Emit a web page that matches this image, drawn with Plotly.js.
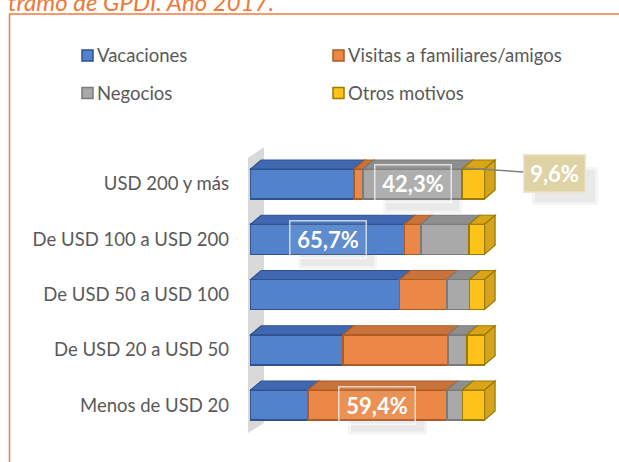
<!DOCTYPE html>
<html>
<head>
<meta charset="utf-8">
<script src="https://cdn.plot.ly/plotly-3.0.1.min.js"></script>
<style>html,body{margin:0;padding:0;background:#fff;}#chart{width:619px;height:462px;}</style>
</head>
<body>
<div id="chart"></div>
<script>
// ---- data ----
const categories = ['USD 200 y más', 'De USD 100 a USD 200', 'De USD 50 a USD 100', 'De USD 20 a USD 50', 'Menos de USD 20'];
const seriesNames = ['Vacaciones', 'Visitas a familiares/amigos', 'Negocios', 'Otros motivos'];
const vacaciones = [44.2, 65.7, 63.7, 39.4, 24.5];
const visitas = [3.9, 7.1, 20.2, 44.9, 59.4];
const negocios = [42.3, 20.6, 9.7, 8.1, 6.6];
const otros = [9.6, 6.6, 6.4, 7.6, 9.5];
const titleText = 'tramo de GPDI. Año 2017.';
// labelled values: [series index, category index]
const insideLabels = [[2, 0], [0, 1], [1, 4]];
const calloutLabel = [3, 0];

// ---- styling ----
const values = [vacaciones, visitas, negocios, otros];
const fills = ['#5282CB', '#EB8848', '#A9A9A9', '#FDC31A'];
const tops = ['#3F68B0', '#C8733C', '#8E8E8E', '#D9A516'];
const edges = ['#2F528F', '#AE5A21', '#7B7B7B', '#9C7A00'];
const sideYellow = '#D4A51C';

const W = 619, H = 462;
const M = {l: 246, r: 111, t: 140, b: 22};
const PW = W - M.l - M.r, PH = H - M.t - M.b;
const xr = [-2, 110];
const yr = [4.633, -0.796];
const pxPerX = PW / (xr[1] - xr[0]);
const pxPerY = PH / (yr[0] - yr[1]);
const x2px = x => M.l + (x - xr[0]) * pxPerX;
const px2x = p => xr[0] + (p - M.l) / pxPerX;
const py2y = p => yr[1] + (p - M.t) / pxPerY;
const y2py = y => M.t + (y - yr[1]) * pxPerY;
const xp = p => (p - M.l) / PW;
const yp = p => 1 - (p - M.t) / PH;

const barW = 0.543;
const dX = 10.5 / pxPerX;
const dY = 9 / pxPerY;

const fmt = v => v.toFixed(1).replace('.', ',') + '%';

const traces = values.map((vals, s) => ({
  type: 'bar', orientation: 'h', name: seriesNames[s],
  y: categories, x: vals, width: barW,
  marker: {color: fills[s], line: {color: edges[s], width: 1.5}},
  hoverinfo: 'skip', showlegend: false
}));

const shapes = [];
// orange frame
shapes.push({type: 'rect', xref: 'paper', yref: 'paper', x0: xp(9.5), x1: xp(640), y0: yp(14), y1: yp(480),
  line: {color: '#F47B3E', width: 1.5}, fillcolor: 'rgba(0,0,0,0)', layer: 'below'});
// back wall
shapes.push({type: 'path', layer: 'below', xref: 'x', yref: 'y',
  path: `M${px2x(248)},${py2y(158)} L${px2x(264)},${py2y(147)} L${px2x(264)},${py2y(423)} L${px2x(248)},${py2y(433)} Z`,
  fillcolor: '#D9D9D9', line: {width: 0}});

// compute cumulative positions
const starts = values.map(() => []);
categories.forEach((c, i) => {
  let acc = 0;
  values.forEach((vals, s) => { starts[s][i] = acc; acc += vals[i]; });
});

// label shadows (soft, behind bars)
function shadowAt(cx, cy, w, h) {
  const p = x2px(cx), q = y2py(cy);
  [[0, 0.045], [3, 0.045]].forEach(([g, a]) => {
    shapes.push({type: 'rect', layer: 'below', xref: 'x', yref: 'y',
      x0: px2x(p - w / 2 + 10 + g), x1: px2x(p + w / 2 + 10 - g), y0: py2y(q - h / 2 + 10 + g), y1: py2y(q + h / 2 + 10 - g),
      fillcolor: `rgba(0,0,0,${a})`, line: {width: 0}});
  });
}
insideLabels.forEach(([s, i]) => {
  shadowAt(starts[s][i] + values[s][i] / 2, i, 79, 39);
});

// 3D top faces + right side
categories.forEach((c, i) => {
  const yTop = i - barW / 2, yBot = i + barW / 2;
  values.forEach((vals, s) => {
    const x0 = starts[s][i], x1 = x0 + vals[i];
    shapes.push({type: 'path', layer: 'above', xref: 'x', yref: 'y',
      path: `M${x0},${yTop} L${x1},${yTop} L${x1 + dX},${yTop - dY} L${x0 + dX},${yTop - dY} Z`,
      fillcolor: tops[s], line: {color: edges[s], width: 1.2}});
  });
  const xe = starts[3][i] + otros[i];
  shapes.push({type: 'path', layer: 'above', xref: 'x', yref: 'y',
    path: `M${xe},${yTop} L${xe + dX},${yTop - dY} L${xe + dX},${yBot - dY} L${xe},${yBot} Z`,
    fillcolor: sideYellow, line: {color: edges[3], width: 1.2}});
});

const annotations = [];
// title (cut off at top, as in the source)
annotations.push({xref: 'paper', yref: 'paper', x: xp(6), y: yp(18.5), xanchor: 'left', yanchor: 'bottom',
  text: '<i>' + titleText + '</i>', showarrow: false,
  font: {family: 'Lato, sans-serif', size: 24, color: '#F07838'}});

// manual legend
const legPos = [[82, 55.5], [333, 55.5], [82, 93], [333, 93]];
seriesNames.forEach((n, s) => {
  const [lx, ly] = legPos[s];
  shapes.push({type: 'rect', xref: 'paper', yref: 'paper', x0: xp(lx), x1: xp(lx + 11), y0: yp(ly - 5.5), y1: yp(ly + 5.5),
    fillcolor: fills[s], line: {color: edges[s], width: 1.5}});
  annotations.push({xref: 'paper', yref: 'paper', x: xp(lx + 13), y: yp(ly), xanchor: 'left', yanchor: 'middle',
    text: n, showarrow: false, font: {family: 'Lato, sans-serif', size: 18.5, color: '#595959'}});
});

// inside data labels
insideLabels.forEach(([s, i]) => {
  annotations.push({xref: 'x', yref: 'y', x: starts[s][i] + values[s][i] / 2, y: i,
    text: '<b>' + fmt(values[s][i]) + '</b>', showarrow: false,
    width: 71, height: 32, borderpad: 2, borderwidth: 1.5,
    bordercolor: 'rgba(255,255,255,0.7)', bgcolor: 'rgba(255,255,255,0.08)',
    font: {family: 'Lato, sans-serif', size: 22, color: '#FFFFFF'}});
});

// callout label
{
  const [s, i] = calloutLabel;
  const tipX = starts[s][i] + values[s][i] * 0.1;
  const tipY = i - 0.29;
  const tx = x2px(tipX), ty = y2py(tipY);
  const cx = 554, cy = 174;
  [[0, 0.045], [3, 0.045]].forEach(([g, a]) => {
    shapes.push({type: 'rect', layer: 'below', xref: 'paper', yref: 'paper',
      x0: xp(cx - 32 + 10 + g), x1: xp(cx + 32 + 12 - g), y0: yp(cy - 19 + 12 + g), y1: yp(cy + 19 + 12 - g),
      fillcolor: `rgba(0,0,0,${a})`, line: {width: 0}});
  });
  annotations.push({xref: 'x', yref: 'y', x: tipX, y: tipY,
    ax: cx - tx, ay: cy - ty, showarrow: true, arrowhead: 0, arrowwidth: 1.5, arrowcolor: '#808080', standoff: 0,
    text: '<b>' + fmt(values[s][i]) + '</b>',
    width: 56, height: 32, borderpad: 2, borderwidth: 1.5,
    bordercolor: '#EDE6CC', bgcolor: '#DFD3A6',
    font: {family: 'Lato, sans-serif', size: 22, color: '#FFFFFF'}});
}

const layout = {
  width: W, height: H, margin: M,
  paper_bgcolor: '#FFFFFF', plot_bgcolor: 'rgba(0,0,0,0)',
  barmode: 'stack', bargap: 0,
  showlegend: false,
  xaxis: {range: xr, visible: false, fixedrange: true},
  yaxis: {type: 'category', categoryorder: 'array', categoryarray: categories, range: yr,
    showgrid: false, zeroline: false, showline: false, ticks: '',
    ticklabelstandoff: 16,
    tickfont: {family: 'Lato, sans-serif', size: 18.5, color: '#595959'}, fixedrange: true},
  shapes: shapes, annotations: annotations,
  font: {family: 'Lato, sans-serif'}
};

Plotly.newPlot('chart', traces, layout, {displayModeBar: false, staticPlot: true});
</script>
</body>
</html>
